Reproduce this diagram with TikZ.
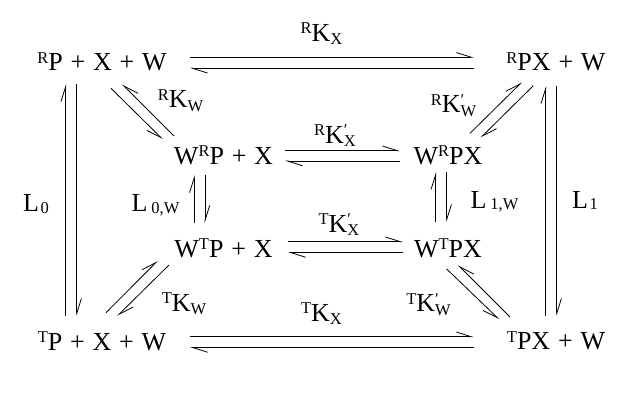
\documentclass[tikz,border=0pt]{standalone}
\usepackage{fontspec}
\setmainfont{Liberation Serif}
\usetikzlibrary{arrows.meta}
\newcommand\upr[1]{\raisebox{7.5pt}{\fontsize{16.5}{16.5}\selectfont #1}}
\newcommand\dnr[1]{\raisebox{-3.3pt}{\fontsize{16.5}{16.5}\selectfont #1}}
\newcommand\dnl[1]{\raisebox{-1.5pt}{\fontsize{16.5}{16.5}\selectfont #1}}
\newcommand\pls{\hspace{0.3em}+\hspace{0.3em}}
\newcommand\kp{\rlap{\upr{\char"2032}}}
\tikzset{
  t/.style={anchor=base, inner sep=0pt, font=\fontsize{26}{30}\selectfont},
  hl/.style={line width=0.8pt, -{Straight Barb[harpoon,length=15pt,width=9.5pt,line width=0.8pt]}},
  hr/.style={line width=0.8pt, -{Straight Barb[harpoon,swap,length=15pt,width=9.5pt,line width=0.8pt]}},
}
\begin{document}
\begin{tikzpicture}[x=1pt,y=-1pt]
\useasboundingbox (0,0) rectangle (640,400);
% species
\node[t] (tl) at (102,70.7) {\upr{R}P\pls X\pls W};
\node[t] (tr) at (556,70.7) {\upr{R}PX\pls W};
\node[t] (bl) at (102,350) {\upr{T}P\pls X\pls W};
\node[t] (br) at (556,349.5) {\upr{T}PX\pls W};
\node[t] (wrp) at (223.5,164) {W\upr{R}P\pls X};
\node[t] (wrpx) at (448,164) {W\upr{R}PX};
\node[t] (wtp) at (223.5,257) {W\upr{T}P\pls X};
\node[t] (wtpx) at (448,257) {W\upr{T}PX};
% labels
\node[t] (lkxr) at (321.5,41) {\upr{R}K\dnr{X}};
\node[t] (lkxt) at (321.5,321) {\upr{T}K\dnr{X}};
\node[t] (lkxpr) at (335,143.3) {\upr{R}K\kp\dnr{X}};
\node[t] (lkxpt) at (339,232) {\upr{T}K\kp\dnr{X}};
\node[t] (lkwr) at (180.5,107.7) {\upr{R}K\dnr{W}};
\node[t] (lkwt) at (184,311) {\upr{T}K\dnr{W}};
\node[t] (lkwpr) at (453.5,112.7) {\upr{R}K\kp\dnr{W}};
\node[t] (lkwpt) at (428.5,311.7) {\upr{T}K\kp\dnr{W}};
\node[t] (l0) at (36,211.7) {L\hspace{1.5pt}\dnl{0}};
\node[t] (l1) at (585,208.3) {L\hspace{1.5pt}\dnl{1}};
\node[t] (l0w) at (155.5,211.7) {L\hspace{4pt}\dnl{0,W}};
\node[t] (l1w) at (494.5,208.3) {L\hspace{4pt}\dnl{1,W}};
% top K_X
\coordinate (kxA1) at (190,57.3); \coordinate (kxA2) at (474,57.3);
\coordinate (kxB1) at (474,68.3); \coordinate (kxB2) at (190,68.3);
\draw[hl] (kxA1) -- (kxA2); \draw[hl] (kxB1) -- (kxB2);
% bottom K_X
\coordinate (kyA1) at (190,336.8); \coordinate (kyA2) at (474,336.8);
\coordinate (kyB1) at (474,347.5); \coordinate (kyB2) at (190,347.5);
\draw[hl] (kyA1) -- (kyA2); \draw[hl] (kyB1) -- (kyB2);
% inner top K'_X
\coordinate (pxA1) at (285,150.7); \coordinate (pxA2) at (400,150.7);
\coordinate (pxB1) at (400,161); \coordinate (pxB2) at (285,161);
\draw[hl] (pxA1) -- (pxA2); \draw[hl] (pxB1) -- (pxB2);
% inner bottom K'_X
\coordinate (pyA1) at (288,241.7); \coordinate (pyA2) at (403,241.7);
\coordinate (pyB1) at (403,252.5); \coordinate (pyB2) at (288,252.5);
\draw[hl] (pyA1) -- (pyA2); \draw[hl] (pyB1) -- (pyB2);
% L0
\coordinate (l0A1) at (65.7,316); \coordinate (l0A2) at (65.7,84);
\coordinate (l0B1) at (76.7,84); \coordinate (l0B2) at (76.7,316);
\draw[hl] (l0A1) -- (l0A2); \draw[hl] (l0B1) -- (l0B2);
% L1
\coordinate (l1A1) at (545.7,316); \coordinate (l1A2) at (545.7,86);
\coordinate (l1B1) at (556.7,86); \coordinate (l1B2) at (556.7,316);
\draw[hl] (l1A1) -- (l1A2); \draw[hl] (l1B1) -- (l1B2);
% L0,W
\coordinate (lwA1) at (194.3,223); \coordinate (lwA2) at (194.3,175);
\coordinate (lwB1) at (205,175); \coordinate (lwB2) at (205,223);
\draw[hl] (lwA1) -- (lwA2); \draw[hl] (lwB1) -- (lwB2);
% L1,W
\coordinate (lvA1) at (435.7,222); \coordinate (lvA2) at (435.7,172);
\coordinate (lvB1) at (446.7,172); \coordinate (lvB2) at (446.7,222);
\draw[hl] (lvA1) -- (lvA2); \draw[hl] (lvB1) -- (lvB2);
% diagonals
\coordinate (dtlA1) at (111,88.3); \coordinate (dtlA2) at (162.7,139.3);
\coordinate (dtlB1) at (174,136); \coordinate (dtlB2) at (122.3,84.3);
\draw[hr] (dtlA1) -- (dtlA2); \draw[hr] (dtlB1) -- (dtlB2);
\coordinate (dtrA1) at (470,133.3); \coordinate (dtrA2) at (521.7,82.3);
\coordinate (dtrB1) at (533.3,85.7); \coordinate (dtrB2) at (480.7,137.7);
\draw[hl] (dtrA1) -- (dtrA2); \draw[hl] (dtrB1) -- (dtrB2);
\coordinate (dblA1) at (106,312.7); \coordinate (dblA2) at (157.7,260.7);
\coordinate (dblB1) at (169,265); \coordinate (dblB2) at (117.3,316);
\draw[hl] (dblA1) -- (dblA2); \draw[hl] (dblB1) -- (dblB2);
\coordinate (dbrA1) at (446.7,269); \coordinate (dbrA2) at (499,319.3);
\coordinate (dbrB1) at (510,317); \coordinate (dbrB2) at (458,265);
\draw[hr] (dbrA1) -- (dbrA2); \draw[hr] (dbrB1) -- (dbrB2);
\end{tikzpicture}
\end{document}
